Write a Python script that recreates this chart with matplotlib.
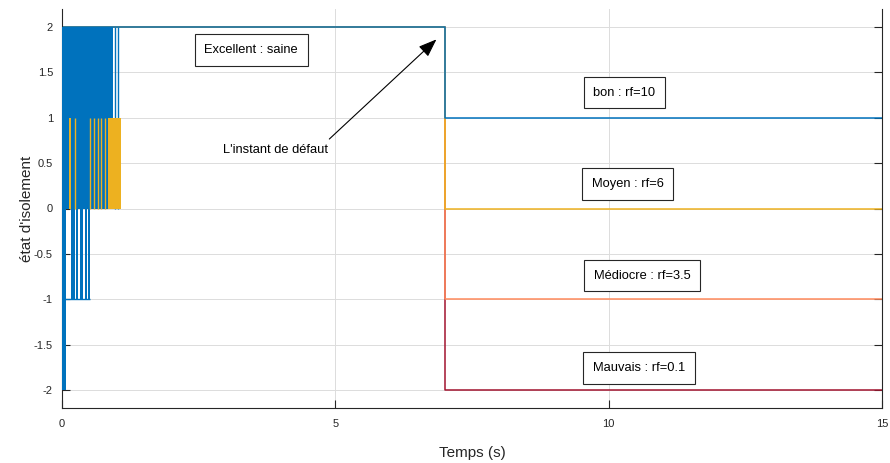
import matplotlib
matplotlib.use('Agg')
import matplotlib.pyplot as plt

plt.rcParams['font.family'] = ['Liberation Sans', 'DejaVu Sans']

# etat d'isolement de chaque niveau, avant et apres le defaut
t_defaut = 7.0
t_fin = 15.0
niveaux = ['bon', 'moyen', 'mediocre', 'mauvais']
etat_avant = [2, 2, 2, 2]
etat_apres = [1, 0, -1, -2]
couleurs = ['#0072BD', '#EDB120', '#FF8A5C', '#A2142F']

# phase transitoire au demarrage : paquets d'oscillations (temps en s)
bleu_paquets_t0 = [0.00, 0.00, 0.17, 0.26, 0.335, 0.415, 0.475]
bleu_paquets_t1 = [0.93, 0.07, 0.23, 0.30, 0.385, 0.455, 0.52]
bleu_paquets_bas = [0, -2, -1, -1, -1, -1, -1]
bleu_paquets_haut = [2, 2, 0, 0, 0, 0, 0]
bleu_traits_t = [0.964, 1.024]
jaune_paquets_t0 = [0.84, 0.125]
jaune_paquets_t1 = [1.085, 0.16]
jaune_traits_t = [0.24, 0.52, 0.58, 0.65, 0.71, 0.78]

# etiquettes
etiquettes = ['Excellent : saine', 'bon : rf=10', 'Moyen : rf=6',
              'Médiocre : rf=3.5', 'Mauvais : rf=0.1']
etiq_t = [3.46, 10.29, 10.35, 10.61, 10.55]
etiq_y = [1.747, 1.277, 0.269, -0.742, -1.76]

fig = plt.figure(figsize=(8.9, 4.63), dpi=100)
ax = fig.add_axes([62 / 890, 1 - 408 / 463, 820 / 890, 399 / 463])

# courbes principales (mauvais dessine en premier, bon au dessus)
for i in reversed(range(len(niveaux))):
    ax.plot([0, t_defaut, t_fin], [etat_avant[i], etat_apres[i], etat_apres[i]],
            drawstyle='steps-post', color=couleurs[i], lw=1.1, zorder=2)

# oscillations au demarrage
for t0, t1, lo, hi in zip(bleu_paquets_t0, bleu_paquets_t1, bleu_paquets_bas, bleu_paquets_haut):
    ax.fill_between([t0, t1], [lo, lo], [hi, hi], color=couleurs[0], lw=0, zorder=3)
ax.vlines(bleu_traits_t, 0, 2, color=couleurs[0], lw=1.0, zorder=3)
ax.hlines(-1, 0.06, 0.52, color=couleurs[0], lw=1.0, zorder=3)
for t0, t1 in zip(jaune_paquets_t0, jaune_paquets_t1):
    ax.fill_between([t0, t1], [0, 0], [1, 1], color=couleurs[1], lw=0, zorder=4)
ax.vlines(jaune_traits_t, 0, 1, color=couleurs[1], lw=1.0, zorder=4)

for s, x, y in zip(etiquettes, etiq_t, etiq_y):
    ax.text(x, y, s, ha='center', va='center', fontsize=9.3, color='black', zorder=6,
            bbox=dict(boxstyle='square,pad=0.75', fc='white', ec='#262626', lw=0.8))

ax.text(3.905, 0.648, "L'instant de défaut", ha='center', va='center', fontsize=9.3)
ax.annotate('', xy=(6.85, 1.865), xytext=(4.89, 0.766),
            arrowprops=dict(arrowstyle='-|>,head_length=0.8,head_width=0.3',
                            color='black', lw=0.8, mutation_scale=14,
                            shrinkA=0, shrinkB=0))

ax.set_xlim(0, 15)
ax.set_ylim(-2.2, 2.2)
ax.set_xticks([0, 5, 10, 15])
ax.set_yticks([-2, -1.5, -1, -0.5, 0, 0.5, 1, 1.5, 2])
ax.set_yticklabels(['-2', '-1.5', '-1', '-0.5', '0', '0.5', '1', '1.5', '2'])
ax.grid(True, color='#dcdcdc', lw=0.7)
ax.set_axisbelow(True)
ax.tick_params(direction='in', length=6, width=0.8, top=False, right=True,
               labelsize=8, colors='#262626')
ax.tick_params(axis='x', pad=8)
ax.tick_params(axis='y', pad=6.5)
for sp in ax.spines.values():
    sp.set_color('#262626')
    sp.set_linewidth(0.8)
ax.spines['top'].set_visible(False)

ax.set_xlabel('Temps (s)', fontsize=11, color='#262626', labelpad=12)
ax.set_ylabel("état d'isolement", fontsize=11, color='#262626', labelpad=0)

fig.savefig('out.png', dpi=100)
